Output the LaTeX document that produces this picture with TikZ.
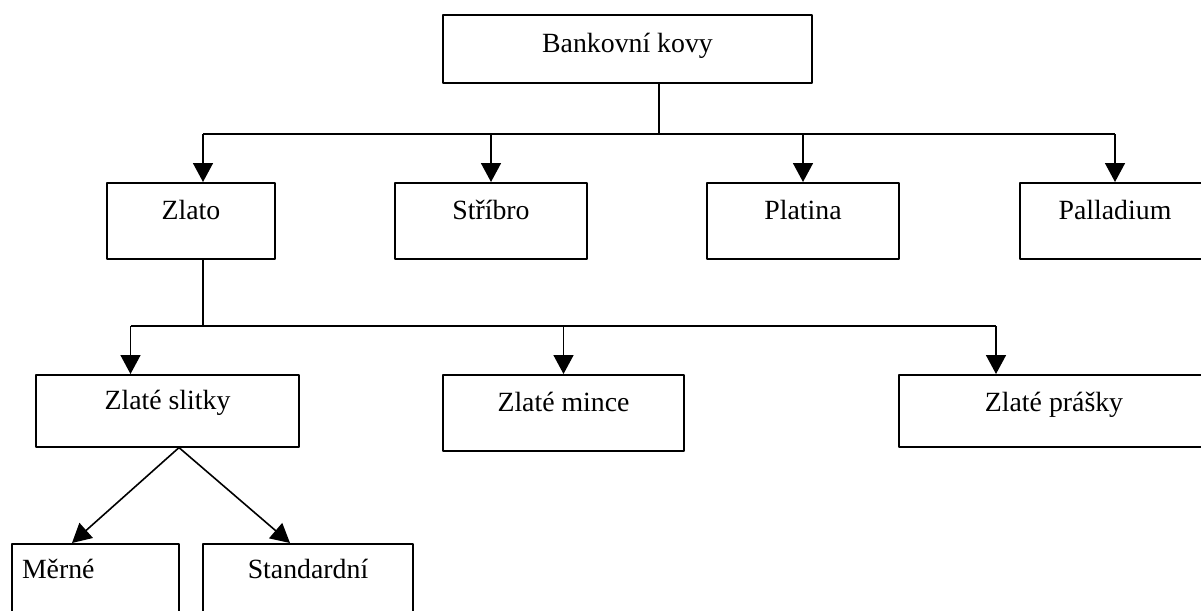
\documentclass[tikz,border=0pt]{standalone}
\usepackage{fontspec}
\setmainfont{Liberation Serif}
\usetikzlibrary{arrows.meta}
\begin{document}
\begin{tikzpicture}[line join=round, x=1pt, y=-1pt, line width=1.6pt,
	>={Triangle[width=20pt,length=19pt]},
	font=\fontsize{27.8}{33}\selectfont,
	box/.style={draw, anchor=north, inner sep=0pt, text height=37pt}]
	\def\ya{134} \def\yb{326} % úrovně vodorovných čar
	\useasboundingbox (0,0) rectangle (1201,610);
	\clip (0,0) rectangle (1201,610);
	\node[box, minimum width=369pt, text height=38pt, text depth=30pt] (bank) at (627.5,14) {Bankovní kovy};
	% kovy
	\node[box, minimum width=168pt, text depth=39pt] (zlato) at (191,182) {Zlato};
	\node[box, minimum width=192pt, text depth=39pt] (stribro) at (491,182) {Stříbro};
	\node[box, minimum width=192pt, text depth=39pt] (platina) at (803,182) {Platina};
	\node[box, minimum width=190pt, text depth=39pt] (palladium) at (1115,182) {Palladium};
	% zlato
	\node[box, minimum width=263pt, text height=35pt, text depth=37pt] (slitky) at (167.5,374) {Zlaté slitky};
	\node[box, minimum width=241pt, text depth=39pt] (mince) at (563.5,374) {Zlaté mince};
	\node[box, minimum width=310pt, text depth=35pt] (prasky) at (1054,374) {Zlaté prášky};
	% slitky
	\node[box, text width=147pt, inner xsep=10pt, align=left, text height=35pt, text depth=100pt] (merne) at (95.5,543) {Měrné};
	\node[box, minimum width=210pt, text height=35pt, text depth=100pt] (standard) at (308,543) {Standardní};
	% spojnice
	\coordinate (k1) at (659,\ya);
	\coordinate (z1) at ([xshift=12pt]zlato.north);
	\coordinate (s1) at ([xshift=-37pt]slitky.north);
	\coordinate (p1) at ([xshift=-58pt]prasky.north);
	\coordinate (k2) at (z1 |- 0,\yb);
	\draw (bank.south -| k1) -- (k1);
	\draw (z1 |- k1) -- (palladium.north |- k1);
	\draw[->] (z1 |- k1) -- (z1);
	\foreach \n in {stribro,platina,palladium}
		\draw[->] (\n.north |- k1) -- (\n.north);
	\draw (zlato.south -| z1) -- (k2);
	\draw (s1 |- k2) -- (p1 |- k2);
	\draw[->] (s1 |- k2) -- (s1);
	\draw[->] (mince.north |- k2) -- (mince.north);
	\draw[->] (p1 |- k2) -- (p1);
	\draw[->] ([xshift=11.5pt]slitky.south) -- ([xshift=-23.5pt]merne.north);
	\draw[->] ([xshift=11.5pt]slitky.south) -- ([xshift=-18pt]standard.north);
\end{tikzpicture}
\end{document}
